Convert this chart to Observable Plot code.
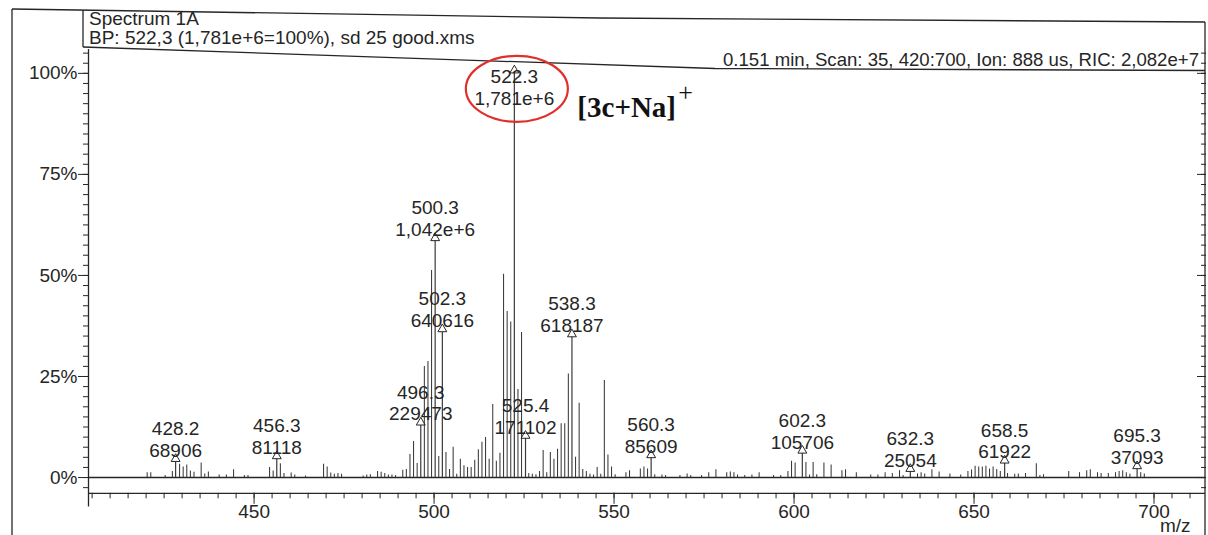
<!DOCTYPE html>
<html>
<head>
<meta charset="utf-8">
<script src="https://cdn.jsdelivr.net/npm/d3@7"></script>
<script src="https://cdn.jsdelivr.net/npm/@observablehq/plot@0.6"></script>
<style>
  html, body { margin: 0; padding: 0; background: #fff; }
  #chart { position: relative; width: 1208px; height: 535px; overflow: hidden; }
  #chart svg { display: block; }
</style>
</head>
<body>
<div id="chart"></div>
<script>
// Labelled peaks: m/z and absolute intensity (counts)
const peakMz     = [428.2, 456.3, 496.3, 500.3, 502.3, 522.3, 525.4, 538.3, 560.3, 602.3, 632.3, 658.5, 695.3];
const peakCounts = [68906, 81118, 229473, 1042000, 640616, 1781000, 171102, 618187, 85609, 105706, 25054, 61922, 37093];
const basePeakCounts = 1781000;

// Unlabelled centroid sticks: m/z and relative intensity (% of base peak)
const stickMz = [
  420.3, 421.3, 425.3, 427.3, 429.3, 430.3, 431.3, 432.3, 433.3, 435.3, 436.3, 437.3, 440.3, 442.3, 444.3,
  447.3, 448.3, 454.3, 455.3, 457.3, 458.3, 460.3, 461.3, 464.3, 469.3, 470.3, 471.3, 472.3, 473.3, 474.3,
  480.3, 481.3, 482.3, 484.3, 485.3, 486.3, 487.3, 488.3, 489.3, 491.3,
  492.3, 493.3, 494.3, 495.3, 497.3, 498.3, 499.3, 501.3, 503.3, 504.3, 505.3, 506.3, 507.3, 508.3, 509.3,
  510.3, 511.3, 512.3, 513.3, 514.3, 515.3, 516.3, 517.3, 518.3, 519.3, 520.3, 521.3, 523.3, 524.3, 526.3,
  527.3, 528.3, 529.3, 530.3, 531.3, 532.3, 533.3, 534.3, 535.3, 536.3, 537.3, 539.3, 540.3, 541.3, 542.3,
  543.3, 544.3, 545.3, 546.3, 547.3, 548.3, 549.3, 550.3,
  553.3, 554.3, 557.3, 558.3, 559.3, 561.3, 563.3, 564.3, 568.3, 570.3, 571.3, 574.3, 576.3, 578.3, 581.3,
  582.3, 583.3, 584.3, 586.3, 588.3, 590.3, 594.3, 596.3, 598.3, 599.3, 600.3, 603.3, 604.3, 605.3, 606.3,
  608.3, 610.3, 613.3, 614.3, 617.3, 621.3, 623.3, 625.3, 627.3, 629.3, 630.3, 634.3, 635.3, 636.3, 638.3,
  640.3, 643.3, 646.3, 648.3, 649.3, 650.3, 651.3, 652.3, 653.3, 654.3, 655.3, 656.3, 657.3, 659.3, 661.3,
  662.3, 664.3, 667.3, 668.3, 669.3, 676.3, 679.3, 681.3, 682.3, 684.3, 685.3, 687.3, 689.3, 690.3, 691.3,
  692.3, 693.3, 696.3, 697.3
];
const stickPct = [
  1.2, 1.2, 0.5, 1.5, 3.3, 2.6, 3.1, 1.6, 1.3, 3.6, 0.9, 1.4, 0.6, 0.6, 1.9,
  0.5, 0.5, 2.5, 1.6, 3.4, 1.0, 1.1, 0.6, 0.4, 3.3, 2.6, 1.1, 0.8, 1.0, 0.8,
  0.4, 0.6, 0.7, 1.5, 1.3, 1.0, 0.6, 0.6, 0.5, 1.8,
  2.0, 5.7, 8.9, 3.5, 27.5, 28.7, 51.2, 5.2, 6.2, 2.0, 7.5, 0.8, 4.5, 2.9, 2.5,
  2.5, 4.3, 6.9, 8.7, 9.9, 4.5, 18.1, 4.0, 6.0, 50.3, 41.1, 38.5, 21.8, 35.9, 1.0,
  0.8, 0.7, 1.5, 6.7, 1.2, 6.2, 4.5, 7.0, 13.3, 13.3, 25.6, 5.0, 18.4, 2.0, 1.5,
  0.8, 0.6, 2.5, 0.8, 24.0, 5.6, 2.6, 0.7,
  1.2, 1.7, 2.1, 2.6, 2.1, 0.7, 0.6, 0.5, 0.5, 0.9, 0.5, 0.5, 1.2, 1.9, 1.2,
  1.4, 1.2, 0.6, 0.5, 0.6, 1.2, 0.5, 0.5, 1.5, 4.0, 3.6, 3.7, 0.6, 3.7, 0.7,
  3.6, 3.1, 1.7, 1.9, 1.2, 0.6, 0.6, 1.2, 1.0, 1.7, 0.5, 0.9, 1.2, 0.9, 1.9,
  1.4, 0.9, 0.6, 1.5, 1.9, 2.8, 2.6, 2.6, 2.8, 2.1, 2.6, 2.0, 1.5, 1.0, 0.8,
  0.9, 1.0, 3.4, 0.5, 0.7, 1.5, 1.2, 1.7, 1.9, 1.2, 1.0, 1.0, 1.2, 1.5, 1.7,
  1.2, 0.8, 1.2, 0.9
];

// Axis ticks
const xTicksMajor = [450, 500, 550, 600, 650, 700];
const xTicksMinor = d3.range(405, 715, 5);
const yTicksMajor = [0, 25, 50, 75, 100];
const yTicksMinor = d3.range(-2.5, 105.1, 2.5);

// Header and annotation texts
const headerTitle = "Spectrum 1A";
const headerBP = "BP: 522,3 (1,781e+6=100%), sd 25 good.xms";
const headerScan = "0.151 min, Scan: 35, 420:700, Ion: 888 us, RIC: 2,082e+7";
const ionLabel = "[3c+Na]";
const ionCharge = "+";
const xLabel = "m/z";

// ---- build tables ----
const fmtCount = c => c >= 1e6 ? (c / 1e6).toFixed(3).replace(".", ",") + "e+6" : String(c);
const sticks = stickMz.map((mz, i) => ({mz, pct: stickPct[i]}));
const peaks = peakMz.map((mz, i) => ({
  mz,
  pct: peakCounts[i] / basePeakCounts * 100,
  label: mz.toFixed(1) + "\n" + fmtCount(peakCounts[i])
}));
const basePeak = peaks.find(d => d.pct >= 99.99);

const ink = "#262626";
const stickInk = "#3a3a3a";
const sans = "'Liberation Sans', Arial, sans-serif";
const serif = "'Liberation Serif', 'Times New Roman', serif";
const xDomain = [404, 714.3];
const yDomain = [-3.9, 105.9];

const chart = Plot.plot({
  width: 1208,
  height: 535,
  marginLeft: 88,
  marginRight: 3,
  marginTop: 49,
  marginBottom: 42.2,
  x: {domain: xDomain, axis: null},
  y: {domain: yDomain, axis: null},
  style: {fontFamily: sans, fontSize: "19px", color: ink, background: "transparent", overflow: "visible"},
  marks: [
    // axis lines and zero baseline
    Plot.ruleX([xDomain[0]], {y1: -7.3, y2: yDomain[1], stroke: ink, strokeWidth: 1.3}),
    Plot.ruleY([yDomain[0]], {stroke: ink, strokeWidth: 1.3}),
    Plot.ruleY([0], {stroke: ink, strokeWidth: 1.5}),

    // left intensity axis
    Plot.axisY({ticks: yTicksMinor, anchor: "left", label: null, tickSize: 5, tickFormat: () => "", stroke: ink}),
    Plot.axisY({ticks: yTicksMajor, anchor: "left", label: null, tickSize: 10, tickPadding: 1, tickFormat: d => d + "%", fontSize: 19, fill: ink, stroke: ink}),
    // inward ticks on the right border
    Plot.axisY({ticks: yTicksMinor, anchor: "right", label: null, tickSize: 5, dx: -5, tickFormat: () => "", stroke: ink}),
    Plot.axisY({ticks: yTicksMajor, anchor: "right", label: null, tickSize: 9, dx: -9, tickFormat: () => "", stroke: ink}),

    // m/z axis
    Plot.axisX({ticks: xTicksMinor, anchor: "bottom", label: null, tickSize: 5.5, tickFormat: () => "", stroke: ink}),
    Plot.axisX({ticks: xTicksMajor, anchor: "bottom", label: null, tickSize: 11, tickPadding: 0, fontSize: 19, fill: ink, stroke: ink}),
    Plot.text([xLabel], {frameAnchor: "bottom-right", text: d => d, lineAnchor: "middle", dx: -15, dy: 33, fontSize: 19, fill: ink}),

    // spectrum sticks
    Plot.ruleX(sticks, {x: "mz", y1: 0, y2: "pct", stroke: stickInk, strokeWidth: 1.05}),
    Plot.ruleX(peaks, {x: "mz", y1: 0, y2: "pct", stroke: stickInk, strokeWidth: 1.2}),

    // peak markers and labels
    Plot.dot(peaks, {x: "mz", y: "pct", symbol: "triangle", r: 3.3, stroke: ink, strokeWidth: 1, fill: "none", dy: -3}),
    Plot.text(peaks.filter(d => d.pct < 95), {x: "mz", y: "pct", text: "label", lineAnchor: "bottom", lineHeight: 1.15, dy: -5, fontSize: 19, fill: ink}),
    Plot.text(peaks.filter(d => d.pct >= 95), {x: "mz", y: "pct", text: "label", lineAnchor: "top", lineHeight: 1.12, dy: -5, fontSize: 19, fill: ink}),

    // ion assignment of the base peak
    Plot.text([basePeak], {x: "mz", y: "pct", text: () => ionLabel, textAnchor: "start", lineAnchor: "middle", dx: 63, dy: 34,
      fontFamily: serif, fontWeight: "bold", fontSize: 29, fill: "#111"}),
    Plot.text([basePeak], {x: "mz", y: "pct", text: () => ionCharge, textAnchor: "start", lineAnchor: "middle", dx: 164, dy: 19,
      fontFamily: serif, fontSize: 26, fill: "#111"})
  ]
});

document.getElementById("chart").appendChild(chart);

// ---- printout frame, header and the highlight ring ----
const svg = d3.select(chart);
const xs = chart.scale("x"), ys = chart.scale("y");
const xL = xs.apply(xDomain[0]), xR = xs.apply(xDomain[1]);
const frame = svg.append("g").attr("fill", "none").attr("stroke", ink).attr("stroke-width", 1.3);
const line = d3.line();
frame.append("path").attr("d", line([[12, 9], [600, 18], [xR, 22]]));          // top edge
frame.append("path").attr("d", line([[83, 47], [715, 68.5], [xR, 70.5]]));     // header underline
frame.append("path").attr("d", line([[12, 9], [12, 535]]));                    // outer left edge
frame.append("path").attr("d", line([[83, 10], [83, 47]]));                    // header left edge
frame.append("path").attr("d", line([[xR, 22], [xR, 535]]));                  // right edge

const head = svg.append("g").attr("fill", ink).attr("font-family", sans).attr("font-size", 19).attr("text-anchor", "start");
head.append("text").attr("x", xL + 1).attr("y", 18).attr("dominant-baseline", "central").text(headerTitle);
head.append("text").attr("x", xL + 1).attr("y", 37).attr("dominant-baseline", "central").text(headerBP);
head.append("text").attr("x", xR - 6).attr("y", 59).attr("font-size", 18.6).attr("text-anchor", "end").attr("dominant-baseline", "central").text(headerScan);

svg.append("ellipse")
  .attr("cx", xs.apply(basePeak.mz) + 3)
  .attr("cy", ys.apply(100) + 16)
  .attr("rx", 51).attr("ry", 33)
  .attr("fill", "none").attr("stroke", "#e0302c").attr("stroke-width", 2.2);
</script>
</body>
</html>
